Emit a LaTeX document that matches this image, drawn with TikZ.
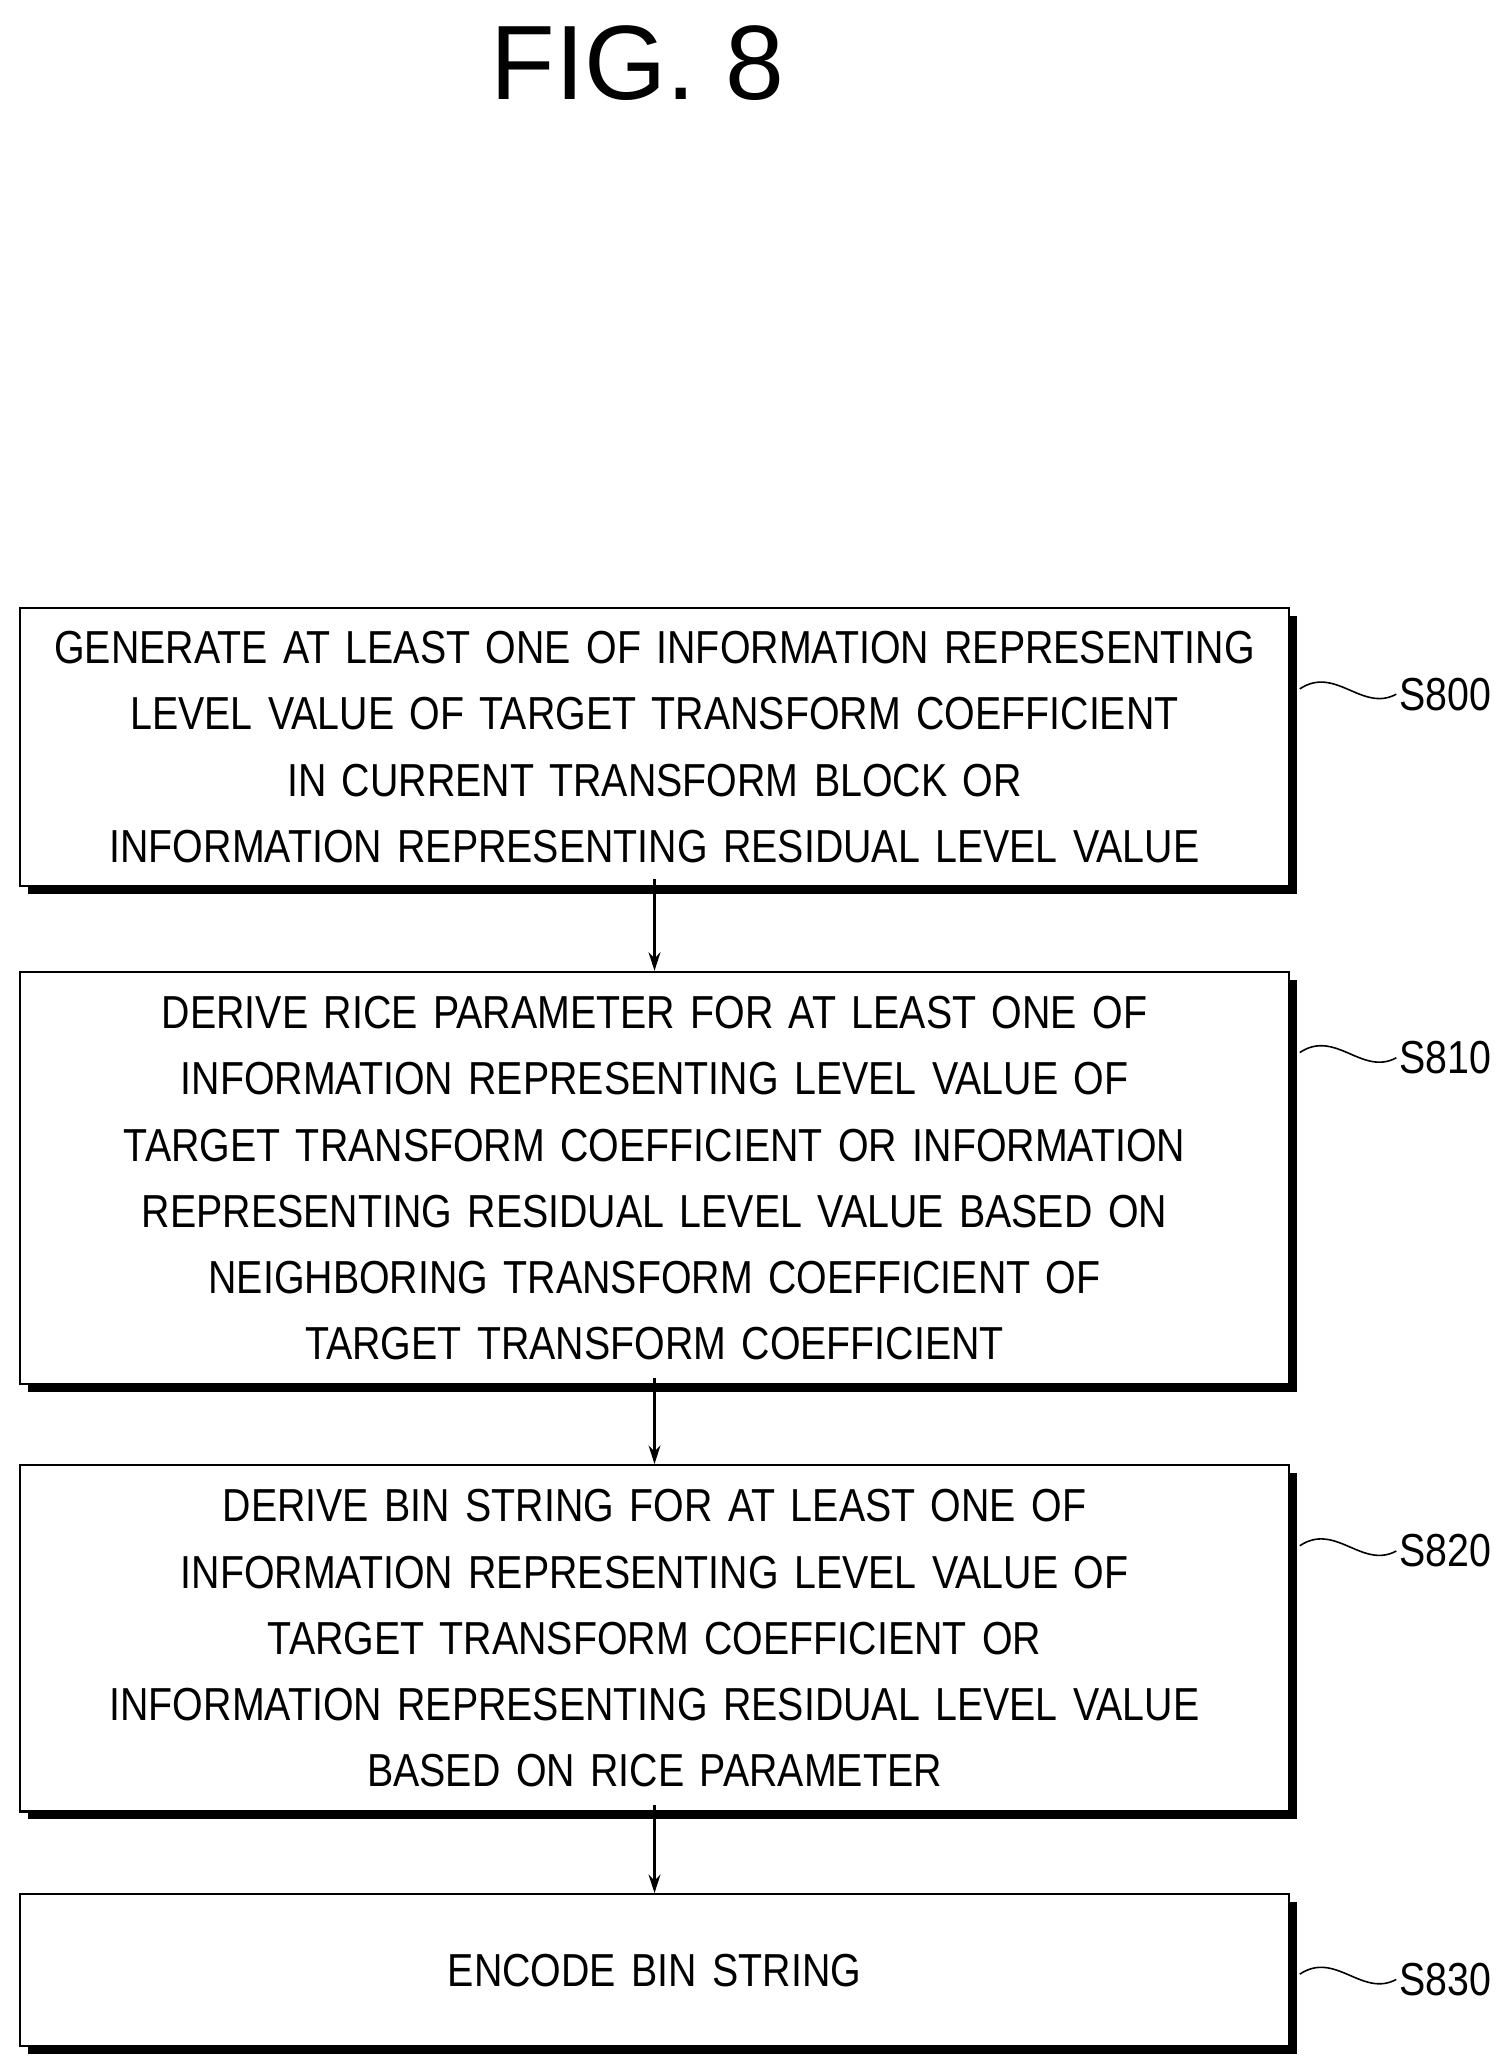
\documentclass[tikz,border=0pt]{standalone}
\usepackage{fontspec}
\setmainfont[FakeStretch=0.85]{Liberation Sans}
\newfontfamily\titlefont{Liberation Sans}
\usetikzlibrary{arrows.meta,shadows}
\tikzset{
  stepbox/.style={draw,line width=1.6pt,fill=white,minimum width=960pt,text width=950pt,
    align=center,font=\fontsize{35}{50}\selectfont,
    drop shadow={shadow xshift=6pt,shadow yshift=-6pt,fill=black,opacity=1}},
  steplabel/.style={anchor=west,font=\fontsize{35}{40}\selectfont,inner sep=0pt},
  flow/.style={line width=1.6pt,-{Stealth[length=14pt,width=9pt]}},
  tilde/.style={line width=1.2pt}
}
\begin{document}
\begin{tikzpicture}[x=1pt,y=-1pt]
  \useasboundingbox (0,0) rectangle (1140,1564);
  \node[font=\titlefont\fontsize{80}{90}\selectfont] (title) at (482,48) {FIG. 8};

  % steps
  \node[stepbox,minimum height=210pt] (s800) at (495,565) {GENERATE AT LEAST ONE OF INFORMATION REPRESENTING\\ LEVEL VALUE OF TARGET TRANSFORM COEFFICIENT\\ IN CURRENT TRANSFORM BLOCK OR\\ INFORMATION REPRESENTING RESIDUAL LEVEL VALUE};
  \node[stepbox,minimum height=312pt] (s810) at (495,891) {DERIVE RICE PARAMETER FOR AT LEAST ONE OF\\ INFORMATION REPRESENTING LEVEL VALUE OF\\ TARGET TRANSFORM COEFFICIENT OR INFORMATION\\ REPRESENTING RESIDUAL LEVEL VALUE BASED ON\\ NEIGHBORING TRANSFORM COEFFICIENT OF\\ TARGET TRANSFORM COEFFICIENT};
  \node[stepbox,minimum height=262pt] (s820) at (495,1239) {DERIVE BIN STRING FOR AT LEAST ONE OF\\ INFORMATION REPRESENTING LEVEL VALUE OF\\ TARGET TRANSFORM COEFFICIENT OR\\ INFORMATION REPRESENTING RESIDUAL LEVEL VALUE\\ BASED ON RICE PARAMETER};
  \node[stepbox,minimum height=115pt] (s830) at (495,1490) {ENCODE BIN STRING};

  \draw[flow] (s800.south) ++(0,-6) coordinate (a0) -- (s810.north);
  \draw[flow] (s810.south) ++(0,-6) coordinate (a1) -- (s820.north);
  \draw[flow] (s820.south) ++(0,-6) coordinate (a2) -- (s830.north);

  % labels
  \foreach \n/\y in {800/525,810/800,820/1173,830/1497} {
    \node[steplabel] (l\n) at (1058,\y) {S\n};
    \coordinate (t\n) at (983,\y-4);
    \draw[tilde] (t\n) .. controls (1010,\y-22) and (1030,\y+14) .. ([xshift=-2pt]l\n.west);
  }
\end{tikzpicture}
\end{document}
